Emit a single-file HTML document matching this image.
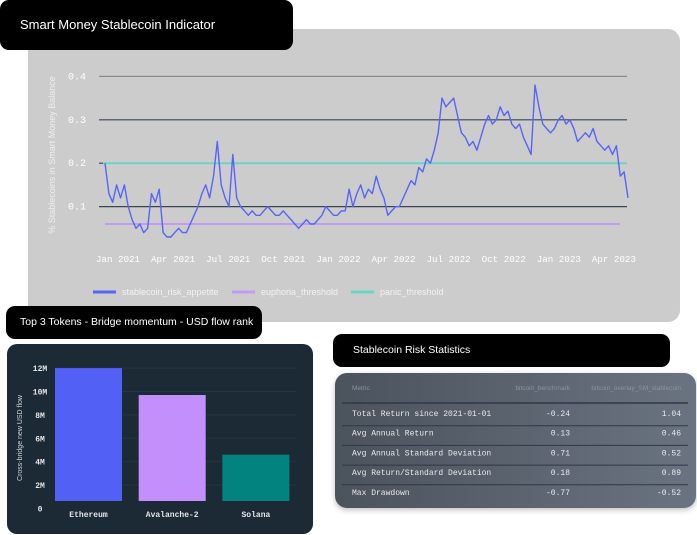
<!DOCTYPE html>
<html><head><meta charset="utf-8"><style>
body{margin:0;width:697px;height:535px;background:#fff;position:relative;overflow:hidden;font-family:"Liberation Sans",sans-serif}
.box{position:absolute;background:#000;color:#fff;border-radius:9px}
</style></head><body>
<div style="position:absolute;left:28px;top:29px;width:652px;height:293px;background:#cccccc;border-radius:12px"></div>
<div class="box" style="left:0;top:0;width:293px;height:50px;font-size:13px;line-height:50px;padding-left:20px;box-sizing:border-box">Smart Money Stablecoin Indicator</div>

<svg id="top" width="697" height="320" style="position:absolute;left:0;top:0"></svg>

<div class="box" style="left:6px;top:306px;width:256px;height:33px;font-size:10.5px;line-height:33px;padding-left:14px;box-sizing:border-box">Top 3 Tokens - Bridge momentum - USD flow rank</div>
<div style="position:absolute;left:7px;top:344px;width:306px;height:190px;background:#1c2a36;border-radius:10px"></div>
<svg id="bar" width="320" height="535" style="position:absolute;left:0;top:0"></svg>

<div class="box" style="left:333px;top:334px;width:337px;height:33px;font-size:10.5px;line-height:33px;padding-left:20px;box-sizing:border-box">Stablecoin Risk Statistics</div>
<div style="position:absolute;left:335px;top:373px;width:361px;height:135px;border-radius:12px;background:linear-gradient(90deg,#4b535d,#6a7380);box-shadow:0 2px 6px rgba(0,0,0,.25)"></div>
<svg id="tbl" width="697" height="535" style="position:absolute;left:0;top:0"></svg>

<script>
const NS='http://www.w3.org/2000/svg';
function mk(p,t,a){const e=document.createElementNS(NS,t);for(const k in a)e.setAttribute(k,a[k]);p.appendChild(e);return e;}

// ---- line chart data ----
const yTicks=[0.1,0.2,0.3,0.4];
const xTickLabels=['Jan 2021','Apr 2021','Jul 2021','Oct 2021','Jan 2022','Apr 2022','Jul 2022','Oct 2022','Jan 2023','Apr 2023'];
const riskAppetite=[0.20,0.13,0.11,0.15,0.12,0.15,0.10,0.07,0.05,0.06,0.04,0.05,0.13,0.11,0.14,0.04,0.03,0.03,0.04,0.05,0.04,0.04,0.06,0.08,0.10,0.13,0.15,0.12,0.17,0.25,0.15,0.12,0.10,0.22,0.12,0.10,0.09,0.08,0.09,0.08,0.08,0.09,0.10,0.09,0.08,0.08,0.09,0.08,0.07,0.06,0.05,0.06,0.07,0.06,0.06,0.07,0.08,0.10,0.09,0.08,0.08,0.09,0.09,0.14,0.10,0.13,0.15,0.12,0.14,0.13,0.17,0.14,0.12,0.08,0.09,0.10,0.10,0.12,0.14,0.16,0.15,0.19,0.18,0.21,0.20,0.23,0.27,0.35,0.33,0.34,0.35,0.31,0.27,0.26,0.24,0.25,0.23,0.26,0.29,0.31,0.29,0.30,0.33,0.31,0.32,0.29,0.28,0.29,0.26,0.24,0.22,0.38,0.33,0.29,0.28,0.27,0.28,0.30,0.31,0.29,0.30,0.28,0.25,0.26,0.27,0.26,0.28,0.25,0.24,0.23,0.24,0.22,0.24,0.17,0.18,0.12];
const euphoria=0.06, panic=0.2;

const s=document.getElementById('top');
const yS=v=>250-v*434;
const x0=105,x1=628;
const xS=i=>x0+(x1-x0)*i/(riskAppetite.length-1);
yTicks.forEach(t=>{
  const g=mk(s,'line',{x1:99,x2:627,y1:yS(t),y2:yS(t),stroke:t==0.4?'#8a8a8a':'#3a4550','stroke-width':1.2});
  
  
  const l=mk(s,'text',{x:77,y:yS(t)+3,'text-anchor':'middle','font-family':'Liberation Mono,monospace','font-size':10,fill:'#fff'});
  l.textContent=t.toFixed(1);
  
  
});
xTickLabels.forEach((t,i)=>{
  const l=mk(s,'text',{x:118+i*55.1,y:262,'text-anchor':'middle','font-family':'Liberation Mono,monospace','font-size':9.2,fill:'#fff'});
  l.textContent=t;
  
  
});
const eu=mk(s,'line',{x1:105,x2:620,y1:yS(euphoria),y2:yS(euphoria),stroke:'#c39bf5','stroke-width':2});


const pa=mk(s,'line',{x1:103,x2:627,y1:yS(panic),y2:yS(panic),stroke:'#6dd3c7','stroke-width':2});


const pl=mk(s,'polyline',{points:riskAppetite.map((v,i)=>xS(i).toFixed(1)+','+yS(v).toFixed(1)).join(' '),fill:'none',stroke:'#5665f5','stroke-width':1.4,'stroke-linejoin':'round'});


const yt=mk(s,'text',{transform:'translate(55,155) rotate(-90)','text-anchor':'middle','font-size':9,fill:'#eeeeee'});
yt.textContent='% Stablecoins in Smart Money Balance';


[['stablecoin_risk_appetite','#5665f5',93],['euphoria_threshold','#c39bf5',232],['panic_threshold','#6dd3c7',351]].forEach(([n,c,x])=>{
  const g=mk(s,'g',{});
  
  
  mk(g,'line',{x1:x,x2:x+23,y1:292,y2:292,stroke:c,'stroke-width':3});
  const t=mk(g,'text',{x:x+29,y:295,'font-size':9,fill:'#f2f2f2'});t.textContent=n;
});

// ---- bar chart data ----
const tokens=['Ethereum','Avalanche-2','Solana'];
const flows=[12.0,9.7,4.6];
const barTicks=[0,2,4,6,8,10,12];
const barColors=['#5360f5','#c38ffb','#02837f'];
const b=document.getElementById('bar');
const by=v=>508.5-v*11.7;
barTicks.forEach(t=>{
  if(t>0){const g=mk(b,'line',{x1:55,x2:296,y1:by(t),y2:by(t),stroke:'#243441','stroke-width':1});
  
  }
  const l=mk(b,'text',{x:40,y:by(t)+3,'text-anchor':'middle','font-family':'Liberation Mono,monospace','font-size':8,'font-weight':'bold',fill:'#e6e6e6'});
  l.textContent=t===0?'0':t+'M';
  
  
});
tokens.forEach((n,i)=>{
  const x=55+i*83.7;
  const r=mk(b,'rect',{x:x,y:by(flows[i]),width:67,height:501-by(flows[i]),fill:barColors[i]});
  
  
  const l=mk(b,'text',{x:x+33.5,y:517,'text-anchor':'middle','font-family':'Liberation Mono,monospace','font-size':8,'font-weight':'bold',fill:'#e6e6e6'});
  l.textContent=n;
  
  
});
const bt=mk(b,'text',{transform:'translate(22,438) rotate(-90)','text-anchor':'middle','font-size':7,fill:'#cfd4d8'});
bt.textContent='Cross-bridge new USD flow';



// ---- table ----
const metrics=['Total Return since 2021-01-01','Avg Annual Return','Avg Annual Standard Deviation','Avg Return/Standard Deviation','Max Drawdown'];
const benchmark=['-0.24','0.13','0.71','0.18','-0.77'];
const overlay=['1.04','0.46','0.52','0.89','-0.52'];
const tb=document.getElementById('tbl');
[['Metric',352,'start'],['bitcoin_benchmark',570,'end'],['bitcoin_overlay_SM_stablecoin',681,'end']].forEach(([t,x,a])=>{
  const e=mk(tb,'text',{x:x,y:390,'text-anchor':a,'font-size':6.5,fill:'#8a939e'});e.textContent=t;
  
  
});
mk(tb,'line',{x1:342,x2:688,y1:403,y2:403,stroke:'#2f3944','stroke-width':1.5});
metrics.forEach((m,i)=>{
  const y=416+i*19.7;
  if(i>0){mk(tb,'line',{x1:342,x2:688,y1:y-10,y2:y-10,stroke:'#2f3944','stroke-width':1});}
  const r=mk(tb,'g',{});
  
  
  [[m,352,'start'],[benchmark[i],570,'end'],[overlay[i],681,'end']].forEach(([t,x,a])=>{
    const e=mk(r,'text',{x:x,y:y,'text-anchor':a,'font-family':'Liberation Mono,monospace','font-size':8,fill:'#e8eaec'});e.textContent=t;
  });
});
</script>
</body></html>
